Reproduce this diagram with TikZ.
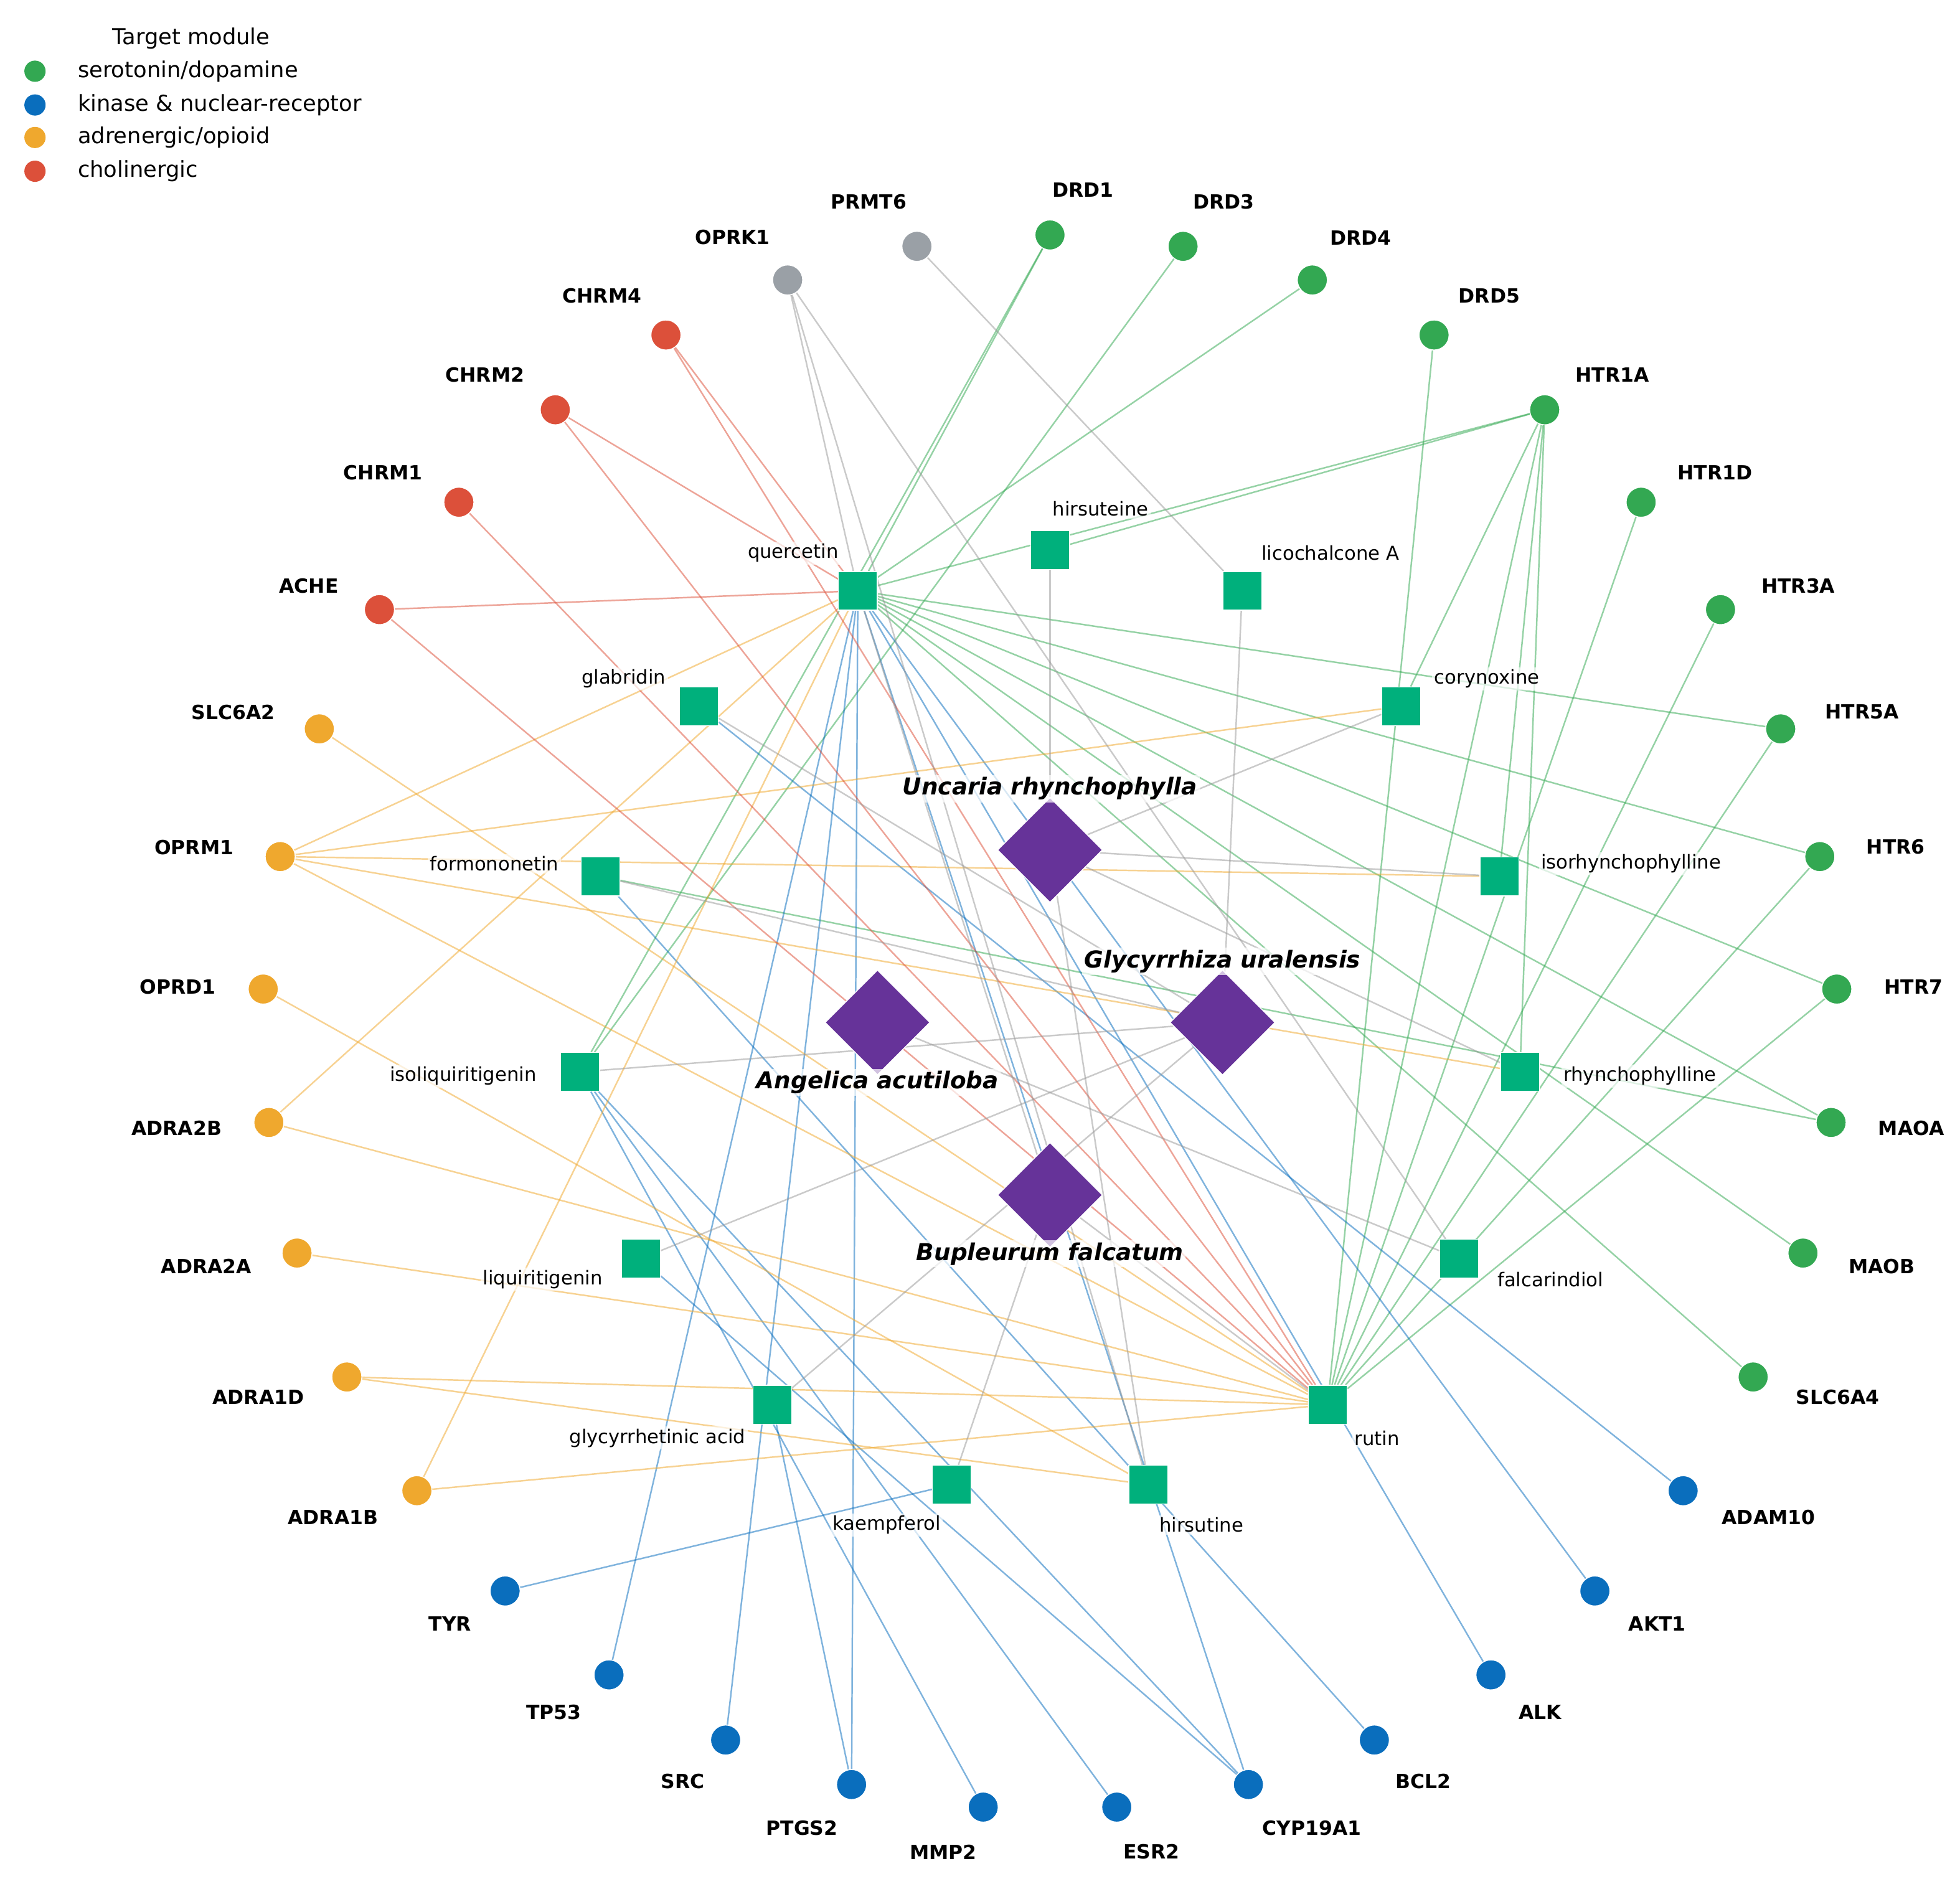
\documentclass[tikz,border=0pt]{standalone}
\usepackage{fontspec}
\setmainfont{DejaVu Sans}
\usetikzlibrary{shapes.geometric,backgrounds,positioning}
\definecolor{sero}{HTML}{33A852}
\definecolor{kin}{HTML}{0A6EBD}
\definecolor{adr}{HTML}{EFA82E}
\definecolor{cho}{HTML}{DC503A}
\definecolor{unk}{HTML}{9AA0A6}
\definecolor{cpd}{HTML}{00B07C}
\definecolor{herbc}{HTML}{663399}

\begin{document}
\begin{tikzpicture}[
  tgt/.style={circle,draw=white,line width=0.4pt,minimum size=0.48cm,inner sep=0pt},
  cpdbox/.style={rectangle,fill=cpd,draw=white,line width=0.4pt,minimum size=0.62cm,inner sep=0pt},
  herb/.style={diamond,fill=herbc,draw=white,line width=0.4pt,minimum size=1.68cm,inner sep=0pt},
  tlbl/.style={font=\fontsize{8.9}{10}\selectfont\bfseries,inner sep=1pt,fill=white,fill opacity=0.7,text opacity=1},
  clbl/.style={font=\fontsize{8.7}{10}\selectfont,inner sep=1pt,fill=white,fill opacity=0.7,text opacity=1},
  hlbl/.style={font=\fontsize{10.6}{12}\selectfont\bfseries\itshape,inner sep=1pt,fill=white,fill opacity=0.7,text opacity=1},
  legdot/.style={circle,minimum size=0.34cm,inner sep=0pt},
  legtxt/.style={font=\fontsize{10}{12}\selectfont,anchor=west,inner sep=0pt},
  edge/.style={line width=0.7pt,draw opacity=0.52}
]
\useasboundingbox (-16.8,-13.78) rectangle (14.56,16.36);

\foreach \n/\c [count=\i from 0] in {DRD1/sero,DRD3/sero,DRD4/sero,DRD5/sero,HTR1A/sero,HTR1D/sero,HTR3A/sero,HTR5A/sero,HTR6/sero,HTR7/sero,MAOA/sero,MAOB/sero,SLC6A4/sero,ADAM10/kin,AKT1/kin,ALK/kin,BCL2/kin,CYP19A1/kin,ESR2/kin}{
  \node[tgt,fill=\c] (\n) at ({90-\i*360/37}:12.6) {};
  \node[tlbl,anchor=west] (\n-l) at ({90-\i*360/37}:13.32) {\n};
}
\foreach \n/\c [count=\i from 19] in {MMP2/kin,PTGS2/kin,SRC/kin,TP53/kin,TYR/kin,ADRA1B/adr,ADRA1D/adr,ADRA2A/adr,ADRA2B/adr,OPRD1/adr,OPRM1/adr,SLC6A2/adr,ACHE/cho,CHRM1/cho,CHRM2/cho,CHRM4/cho,OPRK1/unk,PRMT6/unk}{
  \node[tgt,fill=\c] (\n) at ({90-\i*360/37}:12.6) {};
  \node[tlbl,anchor=east] (\n-l) at ({90-\i*360/37}:13.32) {\n};
}

\foreach \n/\t [count=\j from 0] in {hirsuteine/hirsuteine,licochalcone/licochalcone A,corynoxine/corynoxine,isorhyncho/isorhynchophylline,rhyncho/rhynchophylline,falcarindiol/falcarindiol,rutin/rutin,hirsutine/hirsutine}{
  \node[cpdbox] (\n) at ({90-\j*24}:7.56) {};
  \node[clbl,anchor=west] (\n-l) at ({90-\j*24}:8.22) {\t};
}
\foreach \n/\t [count=\j from 8] in {kaempferol/kaempferol,glycyrrhetinic/glycyrrhetinic acid,liquiritigenin/liquiritigenin,isoliquiritigenin/isoliquiritigenin,formononetin/formononetin,glabridin/glabridin,quercetin/quercetin}{
  \node[cpdbox] (\n) at ({90-\j*24}:7.56) {};
  \node[clbl,anchor=east] (\n-l) at ({90-\j*24}:8.22) {\t};
}

\node[herb] (uncaria) at (90:2.76) {};
\node[herb] (glycyrrhiza) at (0:2.76) {};
\node[herb] (angelica) at (180:2.76) {};
\node[herb] (bupleurum) at (270:2.76) {};
\node[hlbl] (uncaria-l) at ([yshift=0.98cm]uncaria.center) {Uncaria rhynchophylla};
\node[hlbl] (glycyrrhiza-l) at ([yshift=0.98cm]glycyrrhiza.center) {Glycyrrhiza uralensis};
\node[hlbl] (angelica-l) at ([yshift=-0.96cm]angelica.center) {Angelica acutiloba};
\node[hlbl] (bupleurum-l) at ([yshift=-0.94cm]bupleurum.center) {Bupleurum falcatum};

\begin{scope}[on background layer]
\foreach \a/\b in {quercetin/DRD1,isoliquiritigenin/DRD1,isoliquiritigenin/DRD3,quercetin/DRD4,rutin/DRD5,quercetin/HTR1A,hirsuteine/HTR1A,corynoxine/HTR1A,rutin/HTR1A,isorhyncho/HTR1A,rhyncho/HTR1A,rutin/HTR1D,rutin/HTR3A,quercetin/HTR5A,rutin/HTR5A,quercetin/HTR6,rutin/HTR6,quercetin/HTR7,rutin/HTR7,quercetin/MAOA,formononetin/MAOA,quercetin/MAOB,quercetin/SLC6A4}
  \draw[edge,sero] (\a) -- (\b);
\foreach \a/\b in {kaempferol/TYR,quercetin/TP53,quercetin/SRC,quercetin/PTGS2,glycyrrhetinic/PTGS2,isoliquiritigenin/MMP2,isoliquiritigenin/ESR2,isoliquiritigenin/CYP19A1,liquiritigenin/CYP19A1,quercetin/CYP19A1,formononetin/BCL2,quercetin/ALK,quercetin/AKT1,glabridin/ADAM10}
  \draw[edge,kin] (\a) -- (\b);
\foreach \a/\b in {quercetin/OPRM1,corynoxine/OPRM1,isorhyncho/OPRM1,rhyncho/OPRM1,rutin/OPRM1,rutin/SLC6A2,hirsutine/OPRD1,quercetin/ADRA2B,rutin/ADRA2B,rutin/ADRA2A,rutin/ADRA1D,hirsutine/ADRA1D,quercetin/ADRA1B,rutin/ADRA1B}
  \draw[edge,adr] (\a) -- (\b);
\foreach \a/\b in {quercetin/ACHE,rutin/ACHE,rutin/CHRM1,quercetin/CHRM2,rutin/CHRM2,quercetin/CHRM4,rutin/CHRM4}
  \draw[edge,cho] (\a) -- (\b);
\foreach \a/\b in {quercetin/OPRK1,hirsutine/OPRK1,falcarindiol/OPRK1,licochalcone/PRMT6,uncaria/hirsuteine,uncaria/corynoxine,uncaria/isorhyncho,uncaria/rhyncho,uncaria/hirsutine,glycyrrhiza/licochalcone,glycyrrhiza/glabridin,glycyrrhiza/formononetin,glycyrrhiza/isoliquiritigenin,glycyrrhiza/liquiritigenin,glycyrrhiza/glycyrrhetinic,angelica/falcarindiol,bupleurum/quercetin,bupleurum/kaempferol,bupleurum/rutin}
  \draw[edge,gray!80] (\a) -- (\b);
\end{scope}

\node[font=\fontsize{10}{12}\selectfont] (legtitle) at (-13.74,15.74) {Target module};
\node[legdot,fill=sero] (leg1) at (-16.24,15.22) {};
\node[legdot,fill=kin] (leg2) at (-16.24,14.68) {};
\node[legdot,fill=adr] (leg3) at (-16.24,14.16) {};
\node[legdot,fill=cho] (leg4) at (-16.24,13.62) {};
\node[legtxt] (leg1-t) at (-15.56,15.22) {serotonin/dopamine};
\node[legtxt] (leg2-t) at (-15.56,14.68) {kinase \& nuclear-receptor};
\node[legtxt] (leg3-t) at (-15.56,14.16) {adrenergic/opioid};
\node[legtxt] (leg4-t) at (-15.56,13.62) {cholinergic};
\end{tikzpicture}
\end{document}
